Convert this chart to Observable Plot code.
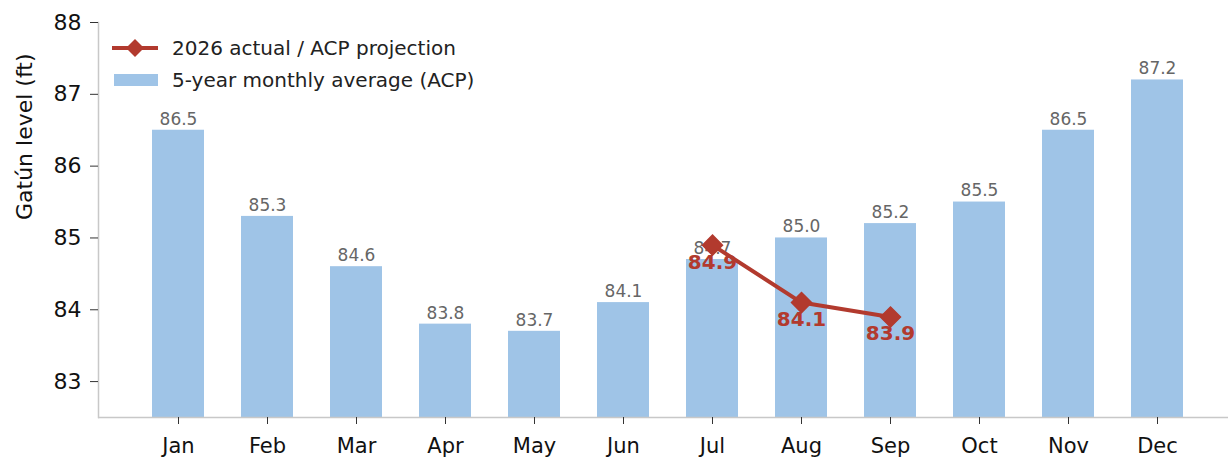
<!DOCTYPE html>
<html>
<head>
<meta charset="utf-8">
<script src="https://cdn.jsdelivr.net/npm/d3@7"></script>
<script src="https://cdn.jsdelivr.net/npm/@observablehq/plot@0.6"></script>
<style>
  body { margin: 0; background: #fff; font-family: "DejaVu Sans", sans-serif; }
  #wrap { position: relative; width: 1230px; height: 458px; }
  #legend { position: absolute; left: 110px; top: 32px; font-size: 20px; color: #222; }
  .row { display: flex; align-items: center; height: 32px; }
  .sw { width: 50px; height: 20px; margin-right: 12px; position: relative; }
</style>
</head>
<body>
<div id="wrap">
  <div id="chart"></div>
  <div id="legend">
    <div class="row"><svg class="sw" width="50" height="20"><line x1="2" y1="10" x2="48" y2="10" stroke="#b23a2e" stroke-width="4"/><path d="M25,1 L34,10 L25,19 L16,10 Z" fill="#b23a2e"/></svg><span>2026 actual / ACP projection</span></div>
    <div class="row"><svg class="sw" width="50" height="20"><rect x="4" y="4" width="44" height="12" fill="#9fc4e7"/></svg><span>5-year monthly average (ACP)</span></div>
  </div>
</div>
<script>
const months = ["Jan","Feb","Mar","Apr","May","Jun","Jul","Aug","Sep","Oct","Nov","Dec"];
const avg5yr = [86.5, 85.3, 84.6, 83.8, 83.7, 84.1, 84.7, 85.0, 85.2, 85.5, 86.5, 87.2];
const actualMonths = ["Jul","Aug","Sep"];
const actualVals = [84.9, 84.1, 83.9];
const yTicks = [83, 84, 85, 86, 87, 88];
const yMin = 82.5, yMax = 88;

const bars = months.map((m, i) => ({month: m, value: avg5yr[i]}));
const line = actualMonths.map((m, i) => ({month: m, value: actualVals[i]}));
const red = "#b23a2e";

const chart = Plot.plot({
  width: 1230,
  height: 458,
  marginLeft: 98,
  marginRight: 2,
  marginTop: 22,
  marginBottom: 41,
  style: {fontFamily: "DejaVu Sans, sans-serif", background: "#fff"},
  x: {domain: months, paddingInner: 0.416, paddingOuter: 0.55, align: 0.55, label: null},
  y: {domain: [yMin, yMax], label: null},
  marks: [
    Plot.barY(bars, {x: "month", y1: yMin, y2: "value", fill: "#9fc4e7"}),
    Plot.text(bars, {x: "month", y: "value", text: d => d.value.toFixed(1), dy: -11, fill: "#666", fontSize: 17}),
    Plot.line(line, {x: "month", y: "value", stroke: red, strokeWidth: 4}),
    Plot.dot(line, {x: "month", y: "value", symbol: "diamond2", r: 9, fill: red, stroke: red}),
    Plot.text(line, {x: "month", y: "value", text: d => d.value.toFixed(1), dy: 17, fill: red, fontSize: 20, fontWeight: "bold"}),
    Plot.ruleY([yMin], {stroke: "#c8c8c8", strokeWidth: 1.5}),
    Plot.frame({anchor: "left", stroke: "#c8c8c8", strokeWidth: 1.5}),
    Plot.axisY({ticks: yTicks, tickFormat: d => String(d), tickSize: 8, tickPadding: 9, fontSize: 22, fill: "#111", stroke: "#333", label: null}),
    Plot.axisX({tickSize: 7, tickPadding: 14, fontSize: 21, fill: "#111", stroke: "#333", label: null}),
    Plot.text(["Gatún level (ft)"], {frameAnchor: "left", dx: -74, rotate: -90, fontSize: 22, fill: "#111", text: d => d})
  ]
});
document.getElementById("chart").appendChild(chart);
</script>
</body>
</html>
